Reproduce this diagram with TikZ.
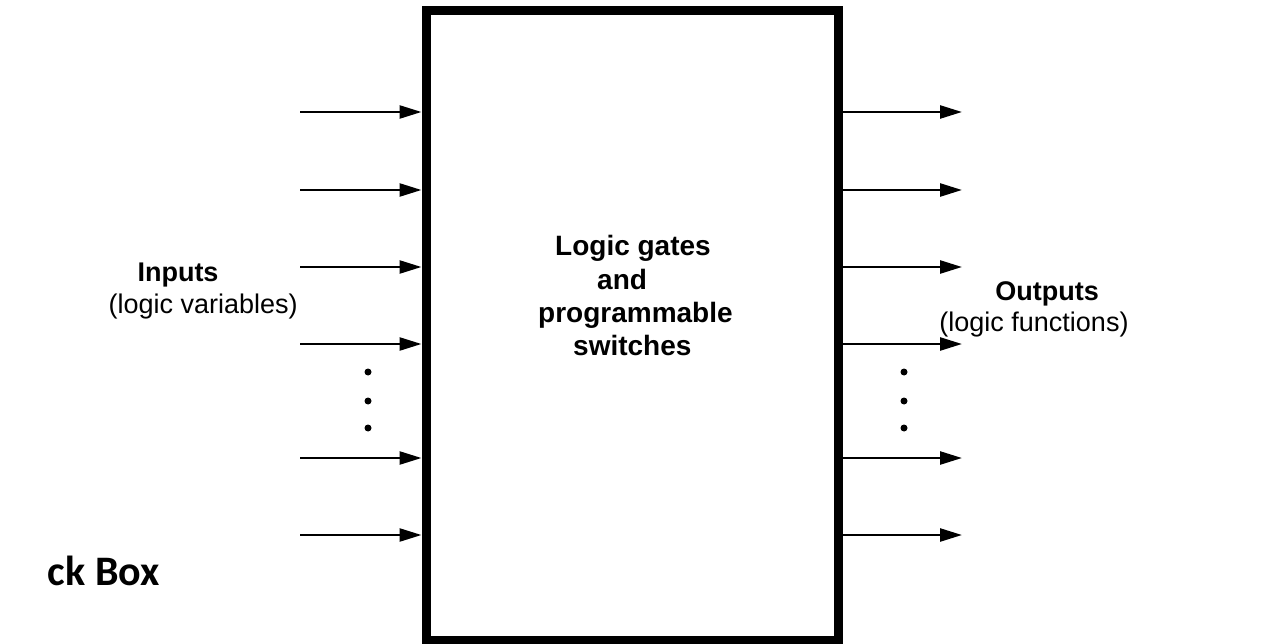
\documentclass[tikz,border=0pt]{standalone}
\usepackage{fontspec}
\setmainfont{Liberation Sans}
\newfontfamily\titlefont{Carlito}
\usetikzlibrary{arrows.meta}
\tikzset{
  blackbox/.style={draw, line width=9pt, inner sep=0pt, minimum width=412.5pt, minimum height=629.5pt},
  signal/.style={line width=2.5pt, -{Triangle[length=22pt,width=13pt]}},
  label/.style={inner sep=0pt, font=\fontsize{28}{32}\selectfont},
  boldlabel/.style={label, font=\fontsize{28}{32}\selectfont\bfseries},
  sidelabel/.style={inner sep=0pt, font=\fontsize{27}{31}\selectfont},
  sidebold/.style={inner sep=0pt, font=\fontsize{27}{31}\selectfont\bfseries},
  ellipsisdot/.style={fill=black, circle, inner sep=0pt, minimum size=7pt}
}
\begin{document}
\begin{tikzpicture}[x=1pt, y=-1pt]
  \useasboundingbox (0,0) rectangle (1287,644);
  % the programmable block
  \node[blackbox] (box) at (632.25,325.25) {};
  % text inside the block
  \node[boldlabel, anchor=base west] (l1) at (555,255) {Logic gates};
  \node[boldlabel, anchor=base west] (l2) at (597,289) {and};
  \node[boldlabel, anchor=base west] (l3) at (538,322) {programmable};
  \node[boldlabel, anchor=base west] (l4) at (573,355) {switches};
  % input and output lines
  \foreach \i/\y in {1/112, 2/190, 3/267, 4/344, 5/458, 6/535} {
    \coordinate (in\i) at (300,\y);
    \coordinate (out\i) at (962,\y);
    \draw[signal] (in\i) -- (in\i -| box.west);
    \draw[signal] (box.east |- out\i) -- (out\i);
  }
  % ellipses between the lines
  \foreach \y/\n in {372/1, 401/2, 428/3} {
    \node[ellipsisdot] (dl\n) at (368,\y) {};
    \node[ellipsisdot] (dr\n) at (904,\y) {};
  }
  % side labels
  \node[sidebold, anchor=base] (inp) at (178,282) {Inputs};
  \node[sidelabel, anchor=base east] (inpv) at (298,313) {(logic variables)};
  \node[sidebold, anchor=base] (outp) at (1047,300) {Outputs};
  \node[sidelabel, anchor=base] (outpf) at (1034,331) {(logic functions)};
  % slide title, left part lies beyond the page
  \node[inner sep=0pt, anchor=base east, font=\fontsize{42}{48}\titlefont\bfseries] (title) at (160,585) {ck Box};
\end{tikzpicture}
\end{document}
